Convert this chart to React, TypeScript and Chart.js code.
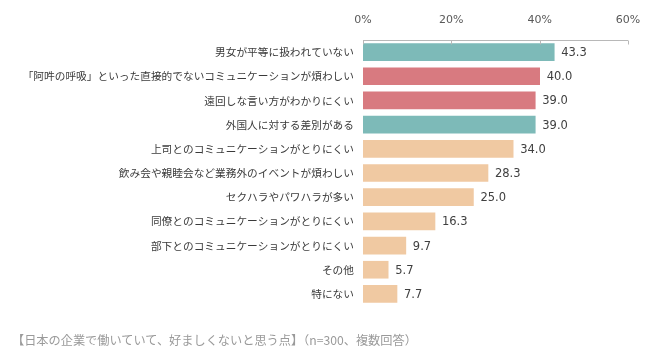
import React, { useEffect, useRef } from "react";
import { Chart, registerables } from "chart.js";

Chart.register(...registerables);

const categories = [
  "男女が平等に扱われていない",
  "「阿吽の呼吸」といった直接的でないコミュニケーションが煩わしい",
  "遠回しな言い方がわかりにくい",
  "外国人に対する差別がある",
  "上司とのコミュニケーションがとりにくい",
  "飲み会や親睦会など業務外のイベントが煩わしい",
  "セクハラやパワハラが多い",
  "同僚とのコミュニケーションがとりにくい",
  "部下とのコミュニケーションがとりにくい",
  "その他",
  "特にない",
];
const values = [43.3, 40.0, 39.0, 39.0, 34.0, 28.3, 25.0, 16.3, 9.7, 5.7, 7.7];
const xTicks = [0, 20, 40, 60];
const caption = "【日本の企業で働いていて、好ましくないと思う点】（n=300、複数回答）";

const TEAL = "#7dbab8";
const PINK = "#d87a80";
const PEACH = "#f0c9a2";
const barColors = [TEAL, PINK, PINK, TEAL, PEACH, PEACH, PEACH, PEACH, PEACH, PEACH, PEACH];

const CHART_LEFT = 363;
const CHART_TOP = 40;

const valueLabelPlugin = {
  id: "valueLabels",
  afterDatasetsDraw(chart: any) {
    const ctx = chart.ctx;
    const meta = chart.getDatasetMeta(0);
    ctx.save();
    ctx.font = "11.5px 'DejaVu Sans'";
    ctx.fillStyle = "#404040";
    ctx.textAlign = "left";
    ctx.textBaseline = "middle";
    meta.data.forEach((bar: any, i: number) => {
      ctx.fillText(values[i].toFixed(1), bar.x + 7, bar.y + 1);
    });
    ctx.restore();
  },
};

const topAxisPlugin = {
  id: "topAxis",
  afterDraw(chart: any) {
    const ctx = chart.ctx;
    const xs = chart.scales.x;
    const y0 = chart.chartArea.top + 0.5;
    ctx.save();
    ctx.strokeStyle = "#b8b8b8";
    ctx.lineWidth = 1;
    ctx.beginPath();
    ctx.moveTo(xs.getPixelForValue(xTicks[0]), y0);
    ctx.lineTo(xs.getPixelForValue(xTicks[xTicks.length - 1]), y0);
    xTicks.forEach((t) => {
      const x = Math.round(xs.getPixelForValue(t)) + 0.5;
      ctx.moveTo(x, y0);
      ctx.lineTo(x, y0 + 4);
    });
    ctx.stroke();
    ctx.restore();
  },
};

export default function App() {
  const ref = useRef<HTMLCanvasElement>(null);
  useEffect(() => {
    if (!ref.current) return;
    const chart = new Chart(ref.current, {
      type: "bar",
      data: {
        labels: categories,
        datasets: [
          {
            data: values,
            backgroundColor: barColors,
            barThickness: 17,
          },
        ],
      },
      options: {
        indexAxis: "y",
        animation: false,
        responsive: false,
        maintainAspectRatio: false,
        layout: { padding: { left: 0, right: 31, top: 0, bottom: 53 } },
        plugins: { legend: { display: false }, tooltip: { enabled: false } },
        scales: {
          x: {
            position: "top",
            min: 0,
            max: 60,
            afterBuildTicks(scale: any) {
              scale.ticks = xTicks.map((v) => ({ value: v }));
            },
            afterFit(scale: any) {
              scale.height = CHART_TOP;
            },
            grid: { display: false, drawTicks: false },
            border: { display: false },
            ticks: {
              padding: 13,
              color: "#595959",
              font: { family: "'DejaVu Sans'", size: 11 },
              callback: (v: any) => v + "%",
            },
          },
          y: {
            afterFit(scale: any) {
              scale.width = CHART_LEFT;
            },
            grid: { display: false, drawTicks: false },
            border: { display: false },
            ticks: {
              padding: 9,
              color: "#3a3a3a",
              font: { family: "'Noto Sans CJK JP'", size: 10.7 },
              autoSkip: false,
            },
          },
        },
      },
      plugins: [valueLabelPlugin, topAxisPlugin],
    });
    return () => chart.destroy();
  }, []);

  return (
    <div style={{ position: "fixed", left: 0, top: 0, width: 659, height: 359, background: "#fff" }}>
      <canvas ref={ref} width={659} height={359} style={{ display: "block" }} />
      <div
        style={{
          position: "absolute",
          left: 12,
          top: 331,
          fontFamily: "'Noto Sans CJK JP'",
          fontSize: 12.2,
          color: "#9a9a9a",
          whiteSpace: "nowrap",
        }}
      >
        {caption}
      </div>
    </div>
  );
}
